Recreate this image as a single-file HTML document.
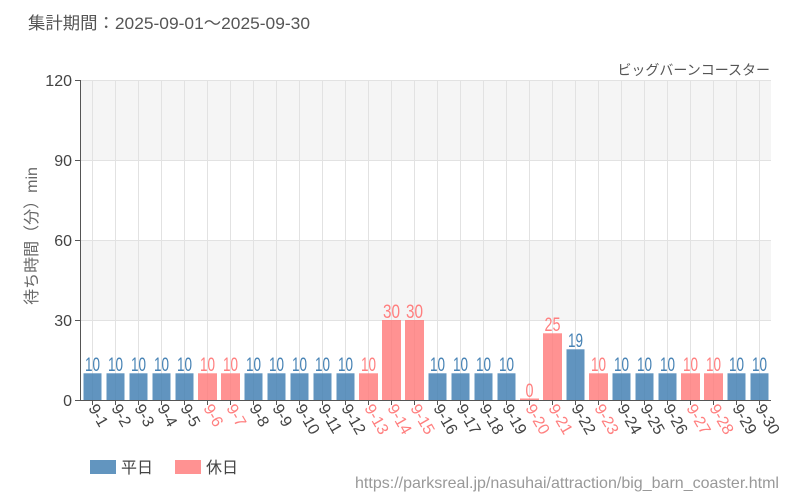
<!DOCTYPE html><html><head><meta charset="utf-8"><style>body{margin:0;background:#fff}svg{display:block}text{font-family:"Liberation Sans","Noto Sans CJK JP",sans-serif}.v text{font-size:19px;text-anchor:middle}.b{fill:#4682b4}.h{fill:#ff7f7f}.x{font-size:16px;fill:#444}.xh{font-size:16px;fill:#ff7f7f}</style></head><body>
<svg width="800" height="500" xmlns="http://www.w3.org/2000/svg">
<text x="28" y="29" font-size="17" fill="#555" textLength="282" lengthAdjust="spacingAndGlyphs">集計期間：2025-09-01～2025-09-30</text>
<text x="770" y="75" font-size="14" fill="#555" text-anchor="end">ビッグバーンコースター</text>
<rect x="81" y="80" width="690" height="80" fill="#f5f5f5"/>
<rect x="81" y="240" width="690" height="80" fill="#f5f5f5"/>
<g stroke="#e2e2e2" stroke-width="1">
<line x1="81" y1="80.5" x2="771" y2="80.5"/><line x1="81" y1="160.5" x2="771" y2="160.5"/><line x1="81" y1="240.5" x2="771" y2="240.5"/><line x1="81" y1="320.5" x2="771" y2="320.5"/>
<path d="M92.5 80V400M115.5 80V400M138.5 80V400M161.5 80V400M184.5 80V400M207.5 80V400M230.5 80V400M253.5 80V400M276.5 80V400M299.5 80V400M322.5 80V400M345.5 80V400M368.5 80V400M391.5 80V400M414.5 80V400M437.5 80V400M460.5 80V400M483.5 80V400M506.5 80V400M529.5 80V400M552.5 80V400M575.5 80V400M598.5 80V400M621.5 80V400M644.5 80V400M667.5 80V400M690.5 80V400M713.5 80V400M736.5 80V400M759.5 80V400"/>
</g>
<g opacity="0.85">
<rect class="b" x="83.5" y="373.3" width="18" height="26.7"/><rect class="b" x="106.5" y="373.3" width="18" height="26.7"/><rect class="b" x="129.5" y="373.3" width="18" height="26.7"/><rect class="b" x="152.5" y="373.3" width="18" height="26.7"/><rect class="b" x="175.5" y="373.3" width="18" height="26.7"/>
<rect class="h" x="198" y="373.3" width="19" height="26.7"/><rect class="h" x="221" y="373.3" width="19" height="26.7"/>
<rect class="b" x="244.5" y="373.3" width="18" height="26.7"/><rect class="b" x="267.5" y="373.3" width="18" height="26.7"/><rect class="b" x="290.5" y="373.3" width="18" height="26.7"/><rect class="b" x="313.5" y="373.3" width="18" height="26.7"/><rect class="b" x="336.5" y="373.3" width="18" height="26.7"/>
<rect class="h" x="359" y="373.3" width="19" height="26.7"/><rect class="h" x="382" y="320" width="19" height="80"/><rect class="h" x="405" y="320" width="19" height="80"/>
<rect class="b" x="428.5" y="373.3" width="18" height="26.7"/><rect class="b" x="451.5" y="373.3" width="18" height="26.7"/><rect class="b" x="474.5" y="373.3" width="18" height="26.7"/><rect class="b" x="497.5" y="373.3" width="18" height="26.7"/>
<rect class="h" x="520" y="398.5" width="19" height="1.5"/><rect class="h" x="543" y="333.3" width="19" height="66.7"/>
<rect class="b" x="566.5" y="349.3" width="18" height="50.7"/>
<rect class="h" x="589" y="373.3" width="19" height="26.7"/>
<rect class="b" x="612.5" y="373.3" width="18" height="26.7"/><rect class="b" x="635.5" y="373.3" width="18" height="26.7"/><rect class="b" x="658.5" y="373.3" width="18" height="26.7"/>
<rect class="h" x="681" y="373.3" width="19" height="26.7"/><rect class="h" x="704" y="373.3" width="19" height="26.7"/>
<rect class="b" x="727.5" y="373.3" width="18" height="26.7"/><rect class="b" x="750.5" y="373.3" width="18" height="26.7"/>
</g>
<g class="v">
<text x="92.5" y="371" class="b" textLength="15" lengthAdjust="spacingAndGlyphs">10</text><text x="115.5" y="371" class="b" textLength="15" lengthAdjust="spacingAndGlyphs">10</text><text x="138.5" y="371" class="b" textLength="15" lengthAdjust="spacingAndGlyphs">10</text><text x="161.5" y="371" class="b" textLength="15" lengthAdjust="spacingAndGlyphs">10</text><text x="184.5" y="371" class="b" textLength="15" lengthAdjust="spacingAndGlyphs">10</text>
<text x="207.5" y="371" class="h" textLength="15" lengthAdjust="spacingAndGlyphs">10</text><text x="230.5" y="371" class="h" textLength="15" lengthAdjust="spacingAndGlyphs">10</text>
<text x="253.5" y="371" class="b" textLength="15" lengthAdjust="spacingAndGlyphs">10</text><text x="276.5" y="371" class="b" textLength="15" lengthAdjust="spacingAndGlyphs">10</text><text x="299.5" y="371" class="b" textLength="15" lengthAdjust="spacingAndGlyphs">10</text><text x="322.5" y="371" class="b" textLength="15" lengthAdjust="spacingAndGlyphs">10</text><text x="345.5" y="371" class="b" textLength="15" lengthAdjust="spacingAndGlyphs">10</text>
<text x="368.5" y="371" class="h" textLength="15" lengthAdjust="spacingAndGlyphs">10</text><text x="391.5" y="318" class="h" textLength="17" lengthAdjust="spacingAndGlyphs">30</text><text x="414.5" y="318" class="h" textLength="17" lengthAdjust="spacingAndGlyphs">30</text>
<text x="437.5" y="371" class="b" textLength="15" lengthAdjust="spacingAndGlyphs">10</text><text x="460.5" y="371" class="b" textLength="15" lengthAdjust="spacingAndGlyphs">10</text><text x="483.5" y="371" class="b" textLength="15" lengthAdjust="spacingAndGlyphs">10</text><text x="506.5" y="371" class="b" textLength="15" lengthAdjust="spacingAndGlyphs">10</text>
<text x="529.5" y="397" class="h" textLength="8" lengthAdjust="spacingAndGlyphs">0</text><text x="552.5" y="331" class="h" textLength="16" lengthAdjust="spacingAndGlyphs">25</text>
<text x="575.5" y="347" class="b" textLength="15" lengthAdjust="spacingAndGlyphs">19</text>
<text x="598.5" y="371" class="h" textLength="15" lengthAdjust="spacingAndGlyphs">10</text>
<text x="621.5" y="371" class="b" textLength="15" lengthAdjust="spacingAndGlyphs">10</text><text x="644.5" y="371" class="b" textLength="15" lengthAdjust="spacingAndGlyphs">10</text><text x="667.5" y="371" class="b" textLength="15" lengthAdjust="spacingAndGlyphs">10</text>
<text x="690.5" y="371" class="h" textLength="15" lengthAdjust="spacingAndGlyphs">10</text><text x="713.5" y="371" class="h" textLength="15" lengthAdjust="spacingAndGlyphs">10</text>
<text x="736.5" y="371" class="b" textLength="15" lengthAdjust="spacingAndGlyphs">10</text><text x="759.5" y="371" class="b" textLength="15" lengthAdjust="spacingAndGlyphs">10</text>
</g>
<g stroke="#555" stroke-width="1">
<line x1="80.5" y1="80" x2="80.5" y2="400"/><line x1="80" y1="400.5" x2="771" y2="400.5"/>
<path d="M75 80.5H80M75 160.5H80M75 240.5H80M75 320.5H80M75 400.5H80"/>
<path d="M92.5 400V405M115.5 400V405M138.5 400V405M161.5 400V405M184.5 400V405M207.5 400V405M230.5 400V405M253.5 400V405M276.5 400V405M299.5 400V405M322.5 400V405M345.5 400V405M368.5 400V405M391.5 400V405M414.5 400V405M437.5 400V405M460.5 400V405M483.5 400V405M506.5 400V405M529.5 400V405M552.5 400V405M575.5 400V405M598.5 400V405M621.5 400V405M644.5 400V405M667.5 400V405M690.5 400V405M713.5 400V405M736.5 400V405M759.5 400V405"/>
</g>
<g font-size="16" fill="#444" text-anchor="end">
<text x="72" y="86">120</text><text x="72" y="166">90</text><text x="72" y="246">60</text><text x="72" y="326">30</text><text x="72" y="406">0</text>
</g>
<text transform="translate(37,236) rotate(-90)" font-size="16" fill="#666" text-anchor="middle">待ち時間（分）min</text>
<g>
<text class="x" transform="translate(88,408) rotate(60)">9-1</text>
<text class="x" transform="translate(111,408) rotate(60)">9-2</text>
<text class="x" transform="translate(134,408) rotate(60)">9-3</text>
<text class="x" transform="translate(157,408) rotate(60)">9-4</text>
<text class="x" transform="translate(180,408) rotate(60)">9-5</text>
<text class="xh" transform="translate(203,408) rotate(60)">9-6</text>
<text class="xh" transform="translate(226,408) rotate(60)">9-7</text>
<text class="x" transform="translate(249,408) rotate(60)">9-8</text>
<text class="x" transform="translate(272,408) rotate(60)">9-9</text>
<text class="x" transform="translate(295,408) rotate(60)">9-10</text>
<text class="x" transform="translate(318,408) rotate(60)">9-11</text>
<text class="x" transform="translate(341,408) rotate(60)">9-12</text>
<text class="xh" transform="translate(364,408) rotate(60)">9-13</text>
<text class="xh" transform="translate(387,408) rotate(60)">9-14</text>
<text class="xh" transform="translate(410,408) rotate(60)">9-15</text>
<text class="x" transform="translate(433,408) rotate(60)">9-16</text>
<text class="x" transform="translate(456,408) rotate(60)">9-17</text>
<text class="x" transform="translate(479,408) rotate(60)">9-18</text>
<text class="x" transform="translate(502,408) rotate(60)">9-19</text>
<text class="xh" transform="translate(525,408) rotate(60)">9-20</text>
<text class="xh" transform="translate(548,408) rotate(60)">9-21</text>
<text class="x" transform="translate(571,408) rotate(60)">9-22</text>
<text class="xh" transform="translate(594,408) rotate(60)">9-23</text>
<text class="x" transform="translate(617,408) rotate(60)">9-24</text>
<text class="x" transform="translate(640,408) rotate(60)">9-25</text>
<text class="x" transform="translate(663,408) rotate(60)">9-26</text>
<text class="xh" transform="translate(686,408) rotate(60)">9-27</text>
<text class="xh" transform="translate(709,408) rotate(60)">9-28</text>
<text class="x" transform="translate(732,408) rotate(60)">9-29</text>
<text class="x" transform="translate(755,408) rotate(60)">9-30</text>
</g>
<rect x="90" y="460" width="26" height="14" fill="#4682b4" opacity="0.85"/>
<text x="121" y="473" font-size="16" fill="#444">平日</text>
<rect x="175" y="460" width="26" height="14" fill="#ff7f7f" opacity="0.85"/>
<text x="206" y="473" font-size="16" fill="#444">休日</text>
<text x="779" y="488" font-size="16" fill="#999" text-anchor="end" textLength="424" lengthAdjust="spacingAndGlyphs">https://parksreal.jp/nasuhai/attraction/big_barn_coaster.html</text>
</svg></body></html>
